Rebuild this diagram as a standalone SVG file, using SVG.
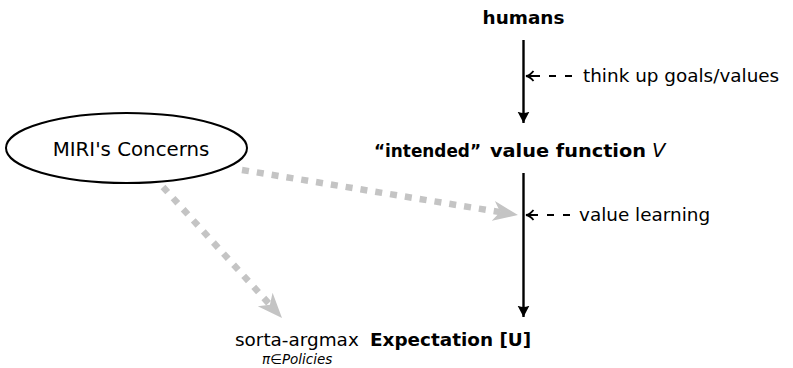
<svg xmlns="http://www.w3.org/2000/svg" width="793" height="368" viewBox="0 0 793 368">
<style>
text{font-family:"DejaVu Sans","Liberation Sans",sans-serif;font-size:18.4px;fill:#000}
.b{font-weight:bold}
.i{font-style:italic}
.main{stroke:#000;stroke-width:2.4;fill:none}
.dash{stroke:#000;stroke-width:1.9;fill:none}
.gray{stroke:#c4c4c4;stroke-width:6.5;stroke-dasharray:7 8;fill:none}
</style>
<defs>
<marker id="bh" viewBox="0 0 12 13" refX="11.5" refY="6.5" markerWidth="12" markerHeight="13" markerUnits="userSpaceOnUse" orient="auto"><path d="M11.5,6.5 L0,0.5 Q3.2,6.5 0,12.5 Z" fill="#000"/></marker>
<marker id="oh" viewBox="0 0 10 12" refX="9" refY="6" markerWidth="10" markerHeight="12" markerUnits="userSpaceOnUse" orient="auto"><path d="M1.5,1 Q5,5.4 9,6 Q5,6.6 1.5,11" fill="none" stroke="#000" stroke-width="1.8"/></marker>
<marker id="gh" viewBox="0 0 26 22" refX="7" refY="11" markerWidth="26" markerHeight="22" markerUnits="userSpaceOnUse" orient="auto"><path d="M25,11 L0,1 L7,11 L0,21 Z" fill="#c4c4c4"/></marker>
</defs>
<g id="connectors">
<line class="main" x1="523.5" y1="40" x2="523.5" y2="123" marker-end="url(#bh)"/>
<line class="main" x1="523.5" y1="173" x2="523.5" y2="317" marker-end="url(#bh)"/>
<path class="dash" d="M572,76 H565 M556,76 H549 M540,76 H526" marker-end="url(#oh)"/>
<path class="dash" d="M570,215 H563 M554,215 H547 M538,215 H526" marker-end="url(#oh)"/>
<line class="gray" x1="242" y1="170" x2="500.2" y2="212.1" marker-end="url(#gh)"/>
<line class="gray" x1="163" y1="187" x2="269.9" y2="304.7" marker-end="url(#gh)"/>
</g>
<g id="humans"><text class="b" x="523.5" y="24" text-anchor="middle">humans</text></g>
<g id="think-label"><text x="583" y="82">think up goals/values</text></g>
<g id="value-function"><text class="b" x="374" y="157" textLength="107" lengthAdjust="spacingAndGlyphs">“intended”</text><text class="b" x="490" y="157" textLength="156" lengthAdjust="spacingAndGlyphs">value function</text><text class="i" x="652" y="157" style="font-size:19.5px">V</text></g>
<g id="learning-label"><text x="579" y="221">value learning</text></g>
<g id="miri"><ellipse cx="126.5" cy="148" rx="120.5" ry="35" fill="#fff" stroke="#000" stroke-width="2"/><text x="131" y="156" text-anchor="middle" style="font-size:19.8px">MIRI's Concerns</text></g>
<g id="expectation"><text x="235" y="346">sorta-argmax</text><text class="b" x="370" y="346">Expectation [U]</text><text x="262" y="364" style="font-size:13.5px"><tspan class="i">π</tspan>∈<tspan class="i">Policies</tspan></text></g>
</svg>
